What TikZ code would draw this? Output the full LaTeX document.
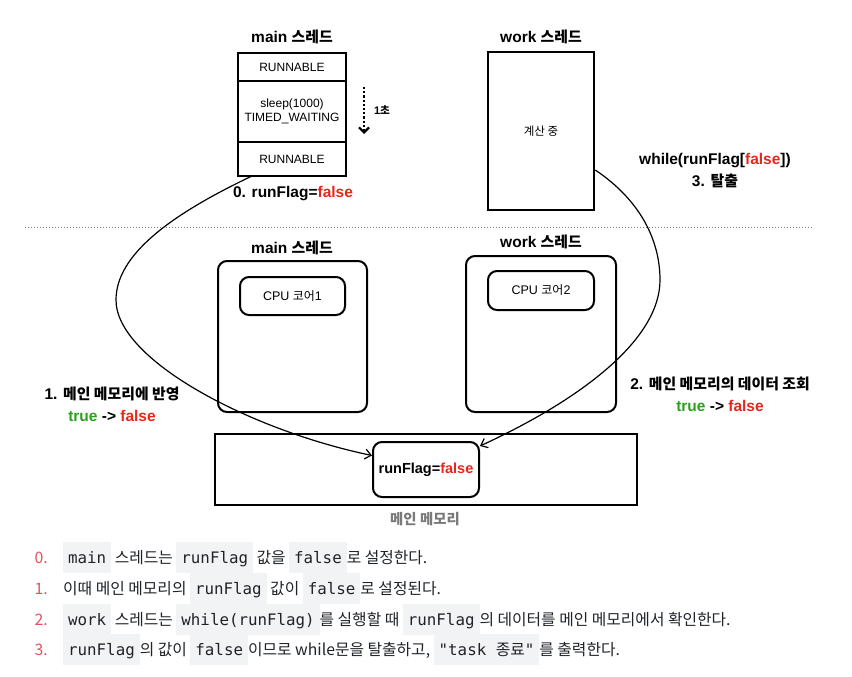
\documentclass[tikz,border=0pt]{standalone}
\usepackage{fontspec}
\setmainfont{Liberation Sans}
\setmonofont{DejaVu Sans Mono}
\newfontfamily\kr[Scale=0.96]{Noto Sans CJK KR}
\newfontfamily\krl{Noto Sans CJK KR}
\usetikzlibrary{positioning,arrows.meta}
\definecolor{fred}{HTML}{E8261C}
\definecolor{fgreen}{HTML}{2E9E1F}
\definecolor{memgray}{HTML}{7A7A7A}
\definecolor{numred}{HTML}{E2525E}
\definecolor{codebg}{HTML}{F2F3F5}
\definecolor{txt}{HTML}{1F2328}
\newcommand{\kor}[1]{{\kr #1}}
\newcommand{\cbox}[1]{{\setlength{\fboxsep}{0pt}\colorbox{codebg}{\rule[-10pt]{0pt}{31pt}\hspace{5pt}\ttfamily #1\hspace{5pt}}}}
\begin{document}
\begin{tikzpicture}[x=1pt,y=-1pt,
  ttl/.style={font=\fontsize{15.5}{18}\selectfont\bfseries},
  lbl/.style={font=\fontsize{15.5}{22}\selectfont\bfseries, align=center},
  stk/.style={draw, line width=2.5pt, minimum width=108pt, inner sep=0pt, outer sep=0pt, align=center, font=\fontsize{12}{14.5}\selectfont},
  core/.style={draw, line width=2pt, rounded corners=9pt, inner sep=0pt, font=\fontsize{12.5}{15}\selectfont},
  flow/.style={line width=1.2pt, -{Straight Barb[length=6pt,width=10pt]}},
  item/.style={anchor=base west, inner sep=0pt, text=txt, font=\krl\fontsize{15.8}{18}\selectfont},
  num/.style={anchor=base east, inner sep=0pt, text=numred, font=\krl\fontsize{15.8}{18}\selectfont}]
\useasboundingbox (0,0) rectangle (852,677);

\node[ttl] (mainttl) at (292,37) {main \kor{스레드}};
\node[stk, minimum height=28pt] (run1) at (292,67) {RUNNABLE};
\node[stk, minimum height=61pt, below=0pt of run1] (wait) {sleep(1000)\\TIMED\_WAITING};
\node[stk, minimum height=34pt, below=0pt of wait] (run2) {RUNNABLE};
\node[ttl] (set0) at (293,194) {0. runFlag=\textcolor{fred}{false}};
\coordinate (sec1) at (364,87);
\coordinate (sec2) at (364,134);
\draw[line width=2.2pt, dotted, -{Straight Barb[length=5pt,width=10pt]}] (sec1) -- (sec2);
\node[font=\fontsize{11}{13}\selectfont\bfseries] (sec) at (382,110) {1\kor{초}};

\node[ttl] (workttl) at (541,37) {work \kor{스레드}};
\node[draw, line width=2.5pt, minimum width=106pt, minimum height=158pt, font=\fontsize{12}{14}\selectfont] (work) at (541,131) {\kor{계산 중}};
\node[lbl] (exit) at (715,171) {while(runFlag[\textcolor{fred}{false}])\\3. \kor{탈출}};

\coordinate (dl) at (25,227);
\coordinate (dr) at (812,227);
\draw[gray, line width=1pt, dotted] (dl) -- (dr);

\node[ttl] (cpu1ttl) at (292,248) {main \kor{스레드}};
\node[core, minimum width=149pt, minimum height=151pt] (cpu1) at (292.5,336.5) {};
\node[core, minimum width=105pt, minimum height=38pt] (core1) at (292.5,296) {CPU \kor{코어}1};
\node[ttl] (cpu2ttl) at (541,242) {work \kor{스레드}};
\node[core, minimum width=150pt, minimum height=156pt] (cpu2) at (541,334) {};
\node[core, minimum width=106pt, minimum height=39pt] (core2) at (541,290.5) {CPU \kor{코어}2};

\node[lbl] (step1) at (112,404) {1. \kor{메인 메모리에 반영}\\\textcolor{fgreen}{true} -> \textcolor{fred}{false}};
\node[lbl] (step2) at (720,394) {2. \kor{메인 메모리의 데이터 조회}\\\textcolor{fgreen}{true} -> \textcolor{fred}{false}};

\node[draw, line width=2.5pt, minimum width=422pt, minimum height=71pt] (mem) at (426,469.5) {};
\node[core, minimum width=106pt, minimum height=55pt, font=\fontsize{14.5}{17}\selectfont\bfseries] (rf) at (426,469.5) {runFlag=\textcolor{fred}{false}};
\node[ttl, text=memgray, font=\fontsize{15}{18}\selectfont\bfseries] (memttl) at (425,519) {\kor{메인 메모리}};

\draw[flow] ([xshift=14pt]run2.south west) .. controls (170,215) and (116,255) .. (116,300)
  .. controls (116,360) and (250,430) .. ([yshift=14pt]rf.west);
\draw[flow] ([yshift=-39pt]work.east) .. controls (640,200) and (660,240) .. (660,280)
  .. controls (660,340) and (580,400) .. ([yshift=-5pt]rf.north east);

\node[num] (n0) at (48,563) {0.};
\node[item] (i0) at (63,563) {\cbox{main} 스레드는 \cbox{runFlag} 값을 \cbox{false}로 설정한다.};
\node[num] (n1) at (48,594) {1.};
\node[item] (i1) at (63,594) {이때 메인 메모리의 \cbox{runFlag} 값이 \cbox{false}로 설정된다.};
\node[num] (n2) at (48,625) {2.};
\node[item] (i2) at (63,625) {\cbox{work} 스레드는 \cbox{while(runFlag)}를 실행할 때 \cbox{runFlag}의 데이터를 메인 메모리에서 확인한다.};
\node[num] (n3) at (48,655) {3.};
\node[item] (i3) at (63,655) {\cbox{runFlag}의 값이 \cbox{false}이므로 while문을 탈출하고, \cbox{"task {\krl 종료}"}를 출력한다.};
\end{tikzpicture}
\end{document}
